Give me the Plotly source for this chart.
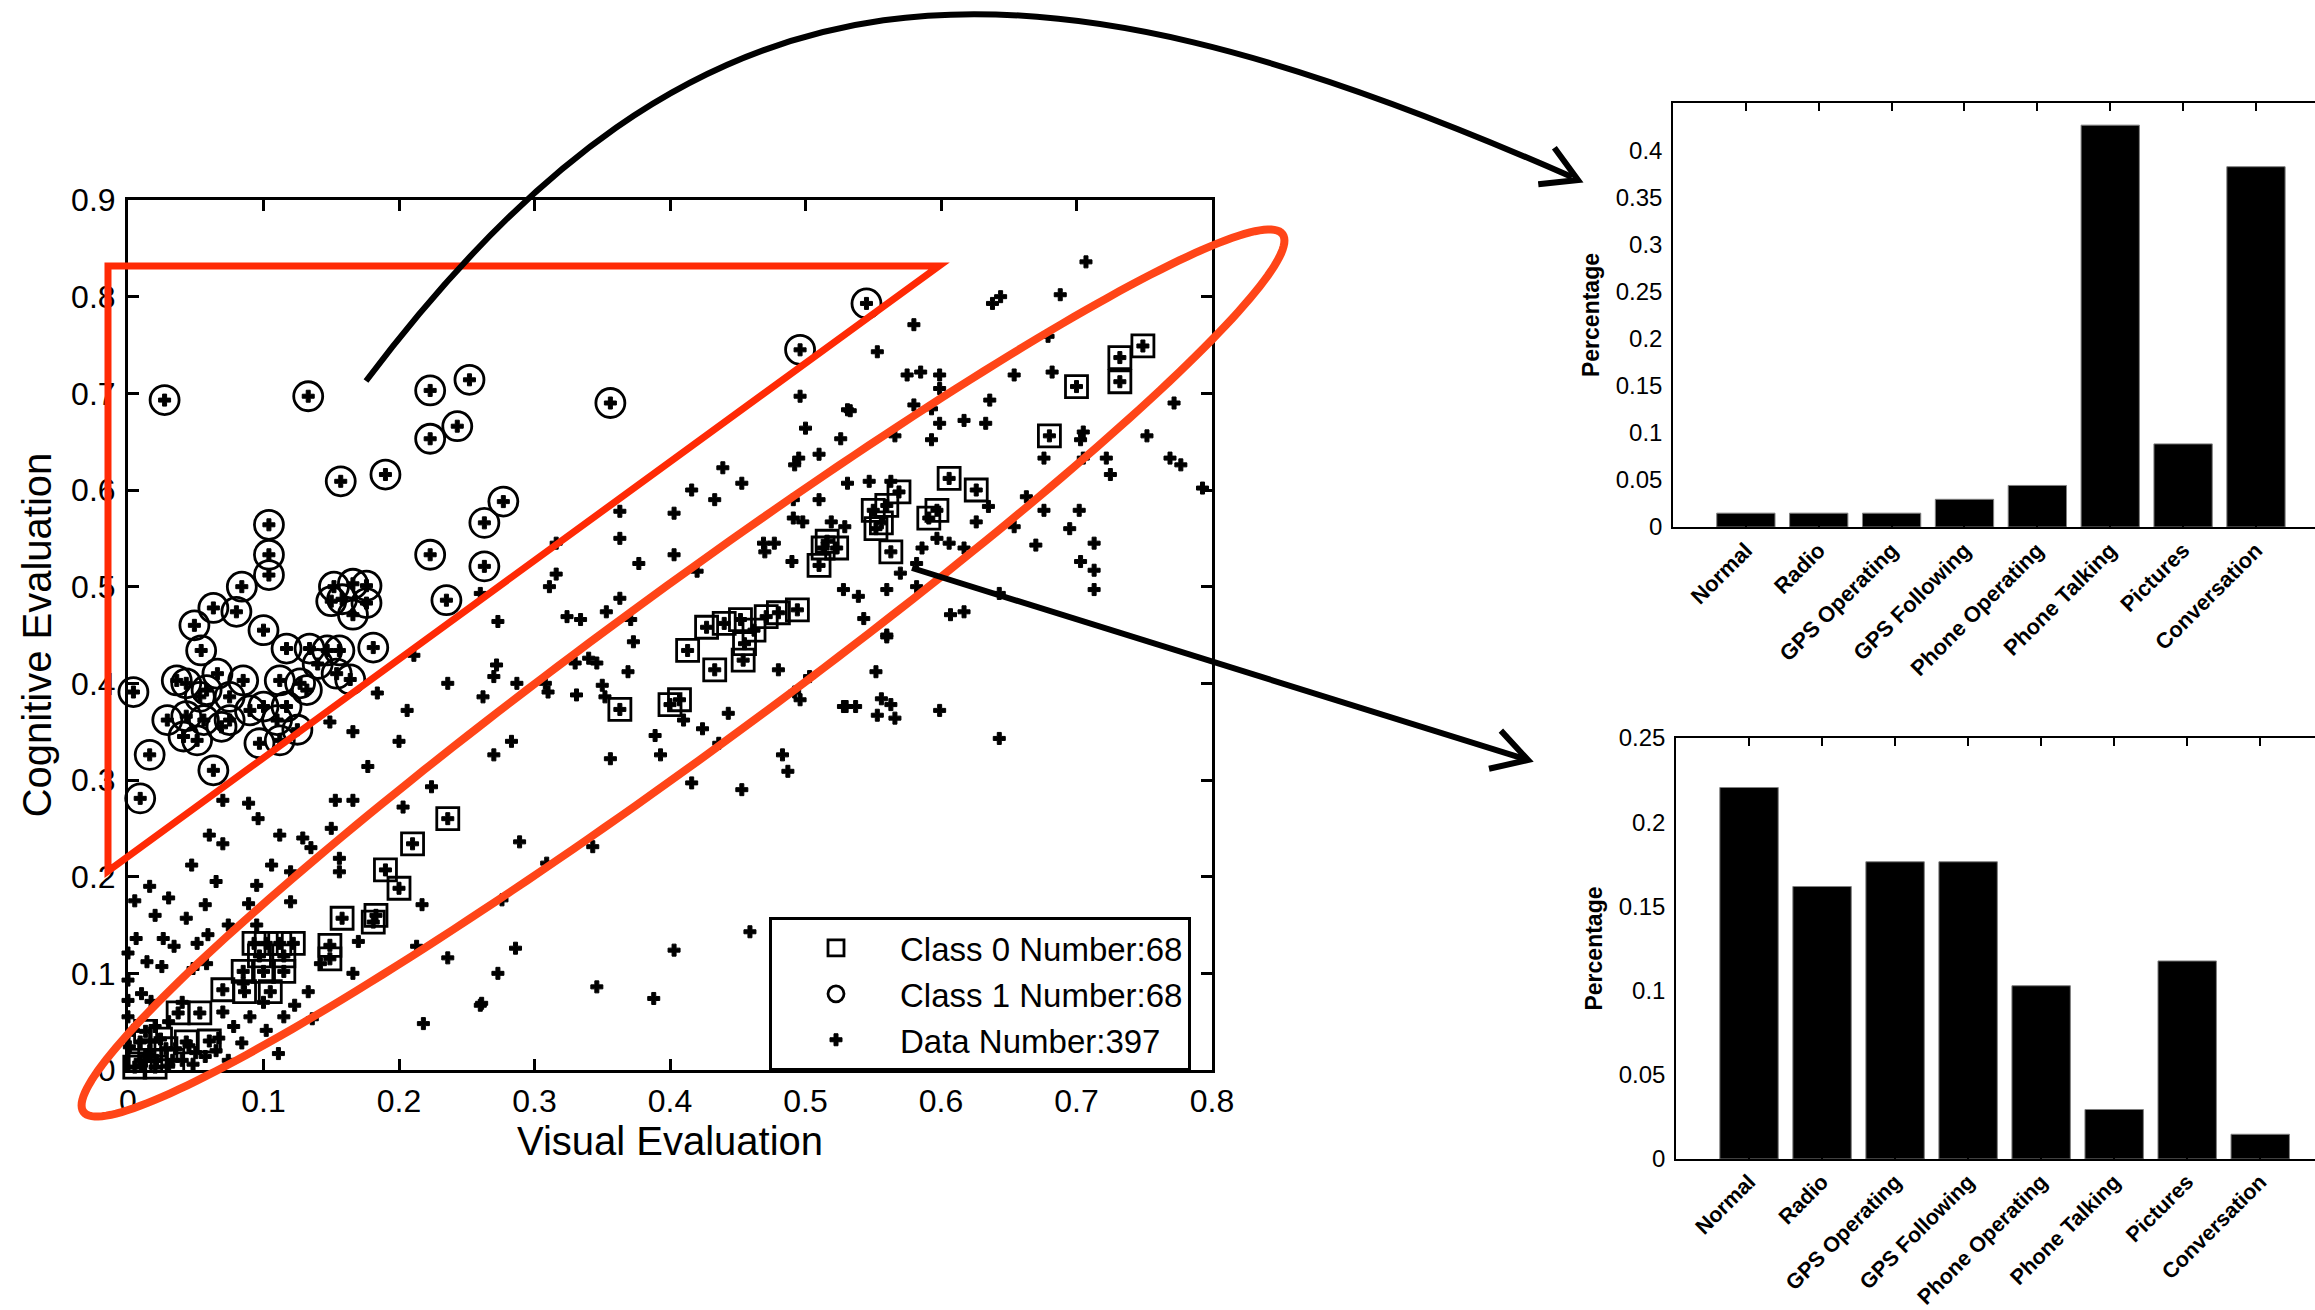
import numpy as np
import plotly.graph_objects as go

W, H = 2315, 1310

# ---------------- data ----------------
class0_x = [0.749, 0.732, 0.732, 0.700, 0.680,
            0.606, 0.626, 0.569, 0.550, 0.560, 0.597, 0.591, 0.552, 0.563, 0.556,
            0.513, 0.523, 0.510, 0.516,
            0.494, 0.480, 0.471, 0.452, 0.440, 0.427, 0.413, 0.433, 0.454, 0.455, 0.462,
            0.363, 0.236, 0.210, 0.190, 0.200,
            0.158, 0.181, 0.183, 0.149, 0.149, 0.093, 0.102, 0.112, 0.122, 0.097, 0.115,
            0.085, 0.115, 0.100, 0.070, 0.086, 0.105, 0.037, 0.053, 0.009, 0.043,
            0.009, 0.021, 0.033, 0.016, 0.028, 0.005, 0.020, 0.407, 0.400, 0.060, 0.013, 0.024]
class0_y = [0.749, 0.737, 0.712, 0.707, 0.656,
            0.612, 0.600, 0.598, 0.579, 0.584, 0.579, 0.571, 0.560, 0.536, 0.566,
            0.540, 0.540, 0.522, 0.547,
            0.476, 0.473, 0.469, 0.466, 0.462, 0.458, 0.434, 0.414, 0.424, 0.441, 0.455,
            0.373, 0.260, 0.234, 0.207, 0.188,
            0.157, 0.153, 0.160, 0.129, 0.115, 0.131, 0.131, 0.131, 0.131, 0.118, 0.118,
            0.102, 0.102, 0.102, 0.083, 0.081, 0.081, 0.059, 0.059, 0.029, 0.029,
            0.010, 0.010, 0.010, 0.020, 0.022, 0.003, 0.003, 0.383, 0.378, 0.030, 0.040, 0.032]

class1_x = [0.027, 0.133, 0.223, 0.252, 0.243, 0.223, 0.157, 0.190, 0.356, 0.496, 0.545,
            0.104, 0.104, 0.104, 0.084, 0.223, 0.263, 0.277, 0.263, 0.235,
            0.152, 0.166, 0.176, 0.158, 0.176, 0.166, 0.150,
            0.063, 0.080, 0.049, 0.100, 0.054,
            0.117, 0.134, 0.147, 0.156, 0.181,
            0.036, 0.043, 0.058, 0.085, 0.112, 0.127, 0.154, 0.053, 0.075, 0.100, 0.117,
            0.132, 0.029, 0.043, 0.056, 0.075, 0.110, 0.041, 0.051, 0.097, 0.112, 0.016,
            0.063, 0.009, 0.004,
            0.164, 0.069, 0.125, 0.090, 0.140, 0.066]
class1_y = [0.693, 0.697, 0.703, 0.714, 0.666, 0.653, 0.609, 0.616, 0.690, 0.745, 0.793,
            0.564, 0.533, 0.512, 0.500, 0.533, 0.566, 0.588, 0.521, 0.486,
            0.500, 0.503, 0.501, 0.487, 0.483, 0.471, 0.485,
            0.478, 0.474, 0.460, 0.455, 0.434,
            0.436, 0.436, 0.434, 0.434, 0.437,
            0.403, 0.400, 0.393, 0.403, 0.403, 0.400, 0.410, 0.386, 0.386, 0.376, 0.376,
            0.393, 0.362, 0.366, 0.362, 0.362, 0.362, 0.345, 0.341, 0.338, 0.341, 0.326,
            0.310, 0.281, 0.391,
            0.404, 0.355, 0.352, 0.372, 0.420, 0.410]

other_x = [0.496, 0.531, 0.500, 0.526, 0.495, 0.492, 0.510, 0.439, 0.453, 0.416, 0.433, 0.531,
           0.491, 0.510, 0.363, 0.403, 0.491, 0.498, 0.519, 0.529, 0.363, 0.316, 0.403, 0.377,
           0.469, 0.477, 0.470, 0.490, 0.420, 0.316, 0.311, 0.363, 0.353, 0.324, 0.334, 0.371,
           0.273, 0.528,
           0.707, 0.688, 0.644, 0.638, 0.580, 0.553, 0.679, 0.575, 0.585, 0.599, 0.654, 0.682,
           0.599, 0.636, 0.533, 0.580, 0.593, 0.599, 0.617, 0.633, 0.566, 0.593, 0.772, 0.705,
           0.703, 0.752, 0.676, 0.705, 0.722, 0.725, 0.769, 0.777, 0.793, 0.547, 0.563, 0.635,
           0.663, 0.676, 0.702, 0.626, 0.654, 0.695, 0.597, 0.606, 0.617, 0.586, 0.670, 0.713,
           0.703, 0.713, 0.713, 0.582, 0.582, 0.570, 0.560, 0.539, 0.543, 0.643, 0.607, 0.617,
           0.560,
           0.373, 0.369, 0.272, 0.270, 0.262, 0.287, 0.308, 0.310, 0.330, 0.340, 0.346, 0.331,
           0.350, 0.352, 0.480, 0.503, 0.492, 0.496, 0.528, 0.443, 0.410, 0.424, 0.389, 0.436,
           0.283, 0.270, 0.356, 0.393, 0.483, 0.487, 0.416, 0.453, 0.289, 0.343, 0.309, 0.276,
           0.459, 0.286, 0.403, 0.273, 0.346, 0.388, 0.261,
           0.560, 0.552, 0.530, 0.537, 0.556, 0.563, 0.553, 0.566, 0.599, 0.643,
           0.236, 0.211, 0.184, 0.206, 0.149, 0.166, 0.200, 0.177, 0.224, 0.153, 0.166, 0.203,
           0.070, 0.089, 0.096, 0.060, 0.070, 0.112, 0.129, 0.150, 0.047, 0.106, 0.156, 0.156,
           0.095, 0.030, 0.057, 0.089, 0.120, 0.043, 0.074, 0.026, 0.051, 0.059, 0.034, 0.006,
           0.000, 0.014, 0.025, 0.058, 0.000, 0.010, 0.000, 0.017, 0.000, 0.217, 0.213, 0.236,
           0.166, 0.170, 0.142, 0.133, 0.123, 0.115, 0.136, 0.078, 0.102, 0.067, 0.084, 0.057,
           0.074, 0.111, 0.218, 0.260, 0.001, 0.004, 0.260,
           0.010, 0.030, 0.040, 0.048, 0.015, 0.035, 0.045, 0.050, 0.020, 0.030, 0.040, 0.070,
           0.065, 0.090, 0.100, 0.085, 0.048, 0.016, 0.020, 0.005, 0.065, 0.120, 0.135, 0.095]
other_y = [0.697, 0.683, 0.664, 0.653, 0.633, 0.626, 0.637, 0.623, 0.607, 0.600, 0.590, 0.607,
           0.590, 0.590, 0.578, 0.576, 0.571, 0.567, 0.567, 0.562, 0.550, 0.545, 0.533, 0.524,
           0.545, 0.545, 0.536, 0.526, 0.516, 0.513, 0.500, 0.488, 0.474, 0.469, 0.466, 0.466,
           0.464, 0.497,
           0.836, 0.802, 0.800, 0.793, 0.771, 0.743, 0.759, 0.719, 0.722, 0.719, 0.719, 0.722,
           0.705, 0.693, 0.682, 0.688, 0.684, 0.669, 0.672, 0.669, 0.656, 0.652, 0.690, 0.660,
           0.652, 0.656, 0.633, 0.633, 0.633, 0.616, 0.633, 0.626, 0.602, 0.609, 0.609, 0.583,
           0.593, 0.579, 0.579, 0.567, 0.562, 0.560, 0.550, 0.545, 0.540, 0.540, 0.543, 0.545,
           0.526, 0.517, 0.497, 0.524, 0.500, 0.514, 0.497, 0.490, 0.467, 0.493, 0.471, 0.474,
           0.450,
           0.443, 0.412, 0.419, 0.407, 0.386, 0.400, 0.400, 0.391, 0.421, 0.426, 0.421, 0.388,
           0.398, 0.386, 0.414, 0.407, 0.391, 0.383, 0.376, 0.369, 0.362, 0.353, 0.346, 0.338,
           0.340, 0.326, 0.322, 0.326, 0.326, 0.309, 0.297, 0.290, 0.236, 0.231, 0.214, 0.176,
           0.143, 0.126, 0.124, 0.100, 0.086, 0.074, 0.069,
           0.448, 0.412, 0.376, 0.376, 0.384, 0.378, 0.367, 0.364, 0.372, 0.343,
           0.400, 0.429, 0.390, 0.372, 0.360, 0.350, 0.340, 0.314, 0.293, 0.279, 0.279, 0.272,
           0.279, 0.276, 0.260, 0.243, 0.234, 0.243, 0.240, 0.250, 0.212, 0.212, 0.219, 0.205,
           0.191, 0.178, 0.171, 0.172, 0.174, 0.157, 0.150, 0.136, 0.131, 0.140, 0.128, 0.136,
           0.121, 0.112, 0.107, 0.110, 0.093, 0.079, 0.072, 0.071, 0.055, 0.171, 0.128, 0.116,
           0.100, 0.133, 0.110, 0.081, 0.067, 0.055, 0.053, 0.045, 0.041, 0.033, 0.028, 0.014,
           0.010, 0.017, 0.048, 0.067, 0.024, 0.041, 0.493,
           0.005, 0.004, 0.010, 0.006, 0.015, 0.022, 0.025, 0.018, 0.045, 0.050, 0.070, 0.060,
           0.020, 0.055, 0.070, 0.090, 0.105, 0.190, 0.160, 0.175, 0.195, 0.205, 0.230, 0.150]

categories = ["Normal", "Radio", "GPS Operating", "GPS Following",
              "Phone Operating", "Phone Talking", "Pictures", "Conversation"]
top_pct = [0.0147, 0.0147, 0.0147, 0.0294, 0.0441, 0.4265, 0.0882, 0.3824]
bottom_pct = [0.2206, 0.1618, 0.1765, 0.1765, 0.1029, 0.0294, 0.1176, 0.0147]
top_ticks = [0, 0.05, 0.1, 0.15, 0.2, 0.25, 0.3, 0.35, 0.4]
top_ticktext = ["0", "0.05", "0.1", "0.15", "0.2", "0.25", "0.3", "0.35", "0.4"]

FONT = "Liberation Sans, Arial, sans-serif"

# all data points (class members are data points too)
all_x = other_x + class0_x + class1_x
all_y = other_y + class0_y + class1_y


def px(x):
    return x / W


def py(y):
    return 1 - y / H


fig = go.Figure()

fig.add_trace(go.Scatter(
    x=all_x, y=all_y, mode="markers", name="Data Number:397", legendrank=3,
    marker=dict(symbol="cross", size=10, color="black", line=dict(width=1, color="black")),
    cliponaxis=False, xaxis="x", yaxis="y"))
fig.add_trace(go.Scatter(
    x=class0_x, y=class0_y, mode="markers", name="Class 0 Number:68", legendrank=1,
    marker=dict(symbol="square-open", size=22, color="black", line=dict(width=2.8)),
    cliponaxis=False, xaxis="x", yaxis="y"))
fig.add_trace(go.Scatter(
    x=class1_x, y=class1_y, mode="markers", name="Class 1 Number:68", legendrank=2,
    marker=dict(symbol="circle-open", size=29, color="black", line=dict(width=2.8)),
    cliponaxis=False, xaxis="x", yaxis="y"))

fig.add_trace(go.Bar(x=categories, y=top_pct, marker=dict(color="black", line=dict(color="#808080", width=1)),
                     showlegend=False, xaxis="x2", yaxis="y2"))
fig.add_trace(go.Bar(x=categories, y=bottom_pct, marker=dict(color="black", line=dict(color="#808080", width=1)),
                     showlegend=False, xaxis="x3", yaxis="y3"))

# ---------------- decorations (pixel geometry -> paper) ----------------
shapes = []
RED1 = "#ff2a05"
RED2 = "#ff4518"

# triangle
tri = [(108, 266), (939, 266), (108, 871)]
d = "M " + " L ".join(f"{px(a):.5f},{py(b):.5f}" for a, b in tri) + " Z"
shapes.append(dict(type="path", path=d, xref="paper", yref="paper",
                   line=dict(color=RED1, width=7), fillcolor="rgba(0,0,0,0)"))

# ellipse
cx, cy, a_, b_ = 683, 673, 743, 80
th = np.deg2rad(36.2)
t = np.linspace(0, 2 * np.pi, 241)
ex = cx + a_ * np.cos(t) * np.cos(th) - b_ * np.sin(t) * np.sin(th)
ey = cy - a_ * np.cos(t) * np.sin(th) - b_ * np.sin(t) * np.cos(th)
d = "M " + " L ".join(f"{px(a):.5f},{py(b):.5f}" for a, b in zip(ex, ey)) + " Z"
shapes.append(dict(type="path", path=d, xref="paper", yref="paper",
                   line=dict(color=RED2, width=8), fillcolor="rgba(0,0,0,0)"))

# curved arrow
P0, P1, P2, P3 = (366, 381), (700, -62), (1010, -70), (1572, 177)
d = (f"M {px(P0[0]):.5f},{py(P0[1]):.5f} C {px(P1[0]):.5f},{py(P1[1]):.5f} "
     f"{px(P2[0]):.5f},{py(P2[1]):.5f} {px(P3[0]):.5f},{py(P3[1]):.5f}")
shapes.append(dict(type="path", path=d, xref="paper", yref="paper",
                   line=dict(color="black", width=6)))


def head(tip, frm, L=40, ang=30):
    v = np.array(tip, float) - np.array(frm, float)
    v /= np.linalg.norm(v)
    pts = []
    for s in (1, -1):
        r = np.deg2rad(ang * s)
        rv = np.array([v[0] * np.cos(r) - v[1] * np.sin(r), v[0] * np.sin(r) + v[1] * np.cos(r)])
        pts.append(np.array(tip) - L * rv)
    return (f"M {px(pts[0][0]):.5f},{py(pts[0][1]):.5f} L {px(tip[0]):.5f},{py(tip[1]):.5f} "
            f"L {px(pts[1][0]):.5f},{py(pts[1][1]):.5f}")


shapes.append(dict(type="path", path=head((1578, 180), P2), xref="paper", yref="paper",
                   line=dict(color="black", width=6)))

# straight arrow
A0, A1 = (912, 568), (1528, 760)
shapes.append(dict(type="line", x0=px(A0[0]), y0=py(A0[1]), x1=px(A1[0]), y1=py(A1[1]),
                   xref="paper", yref="paper", line=dict(color="black", width=6)))
shapes.append(dict(type="path", path=head(A1, A0), xref="paper", yref="paper",
                   line=dict(color="black", width=6)))

# ---------------- layout ----------------
ax_common = dict(showgrid=False, zeroline=False, showline=True, linecolor="black",
                 color="black", automargin=False)

fig.update_layout(
    width=W, height=H, margin=dict(l=0, r=0, t=0, b=0, autoexpand=False),
    paper_bgcolor="white", plot_bgcolor="rgba(0,0,0,0)",
    font=dict(family=FONT, color="black"),
    showlegend=True,
    legend=dict(x=px(769), y=py(917), xanchor="left", yanchor="top",
                bgcolor="white", bordercolor="black", borderwidth=3,
                font=dict(size=33, family=FONT), itemwidth=118, tracegroupgap=0),
    xaxis=dict(domain=[px(128), px(1212)], range=[0, 0.8], dtick=0.1, tick0=0,
               ticks="inside", ticklen=11, tickwidth=2.5, mirror="ticks", linewidth=3,
               tickfont=dict(size=32), ticklabelstandoff=1,
               title=dict(text="Visual Evaluation", font=dict(size=40), standoff=3),
               anchor="y", **ax_common),
    yaxis=dict(domain=[py(1070), py(200)], range=[0, 0.9], dtick=0.1, tick0=0,
               ticks="inside", ticklen=11, tickwidth=2.5, mirror="ticks", linewidth=3,
               tickfont=dict(size=32), ticklabelstandoff=3,
               title=dict(text="Cognitive Evaluation", font=dict(size=40), standoff=8),
               anchor="x", **ax_common),
    xaxis2=dict(domain=[px(1673), 1.0], range=[-1, 7.81], type="category",
                ticks="inside", ticklen=8, tickwidth=1.5, mirror="ticks", linewidth=1.5,
                tickangle=-45, tickfont=dict(size=22, weight="bold"),
                anchor="y2", **ax_common),
    yaxis2=dict(domain=[py(527), py(103)], range=[0, 0.45],
                tickmode="array", tickvals=top_ticks, ticktext=top_ticktext,
                ticks="", linewidth=1.5, tickfont=dict(size=24), ticklabelstandoff=4,
                title=dict(text="Percentage", font=dict(size=23, weight="bold"), standoff=10),
                anchor="x2", **ax_common),
    xaxis3=dict(domain=[px(1676), 1.0], range=[-1, 7.75], type="category",
                ticks="inside", ticklen=8, tickwidth=1.5, mirror="ticks", linewidth=1.5,
                tickangle=-45, tickfont=dict(size=21.5, weight="bold"),
                anchor="y3", **ax_common),
    yaxis3=dict(domain=[py(1159), py(738)], range=[0, 0.25], dtick=0.05, tick0=0,
                ticks="", linewidth=1.5, tickfont=dict(size=24), ticklabelstandoff=4,
                title=dict(text="Percentage", font=dict(size=23, weight="bold"), standoff=10),
                anchor="x3", **ax_common),
    bargap=0.2,
    shapes=shapes,
)

fig.write_html("out.html")
